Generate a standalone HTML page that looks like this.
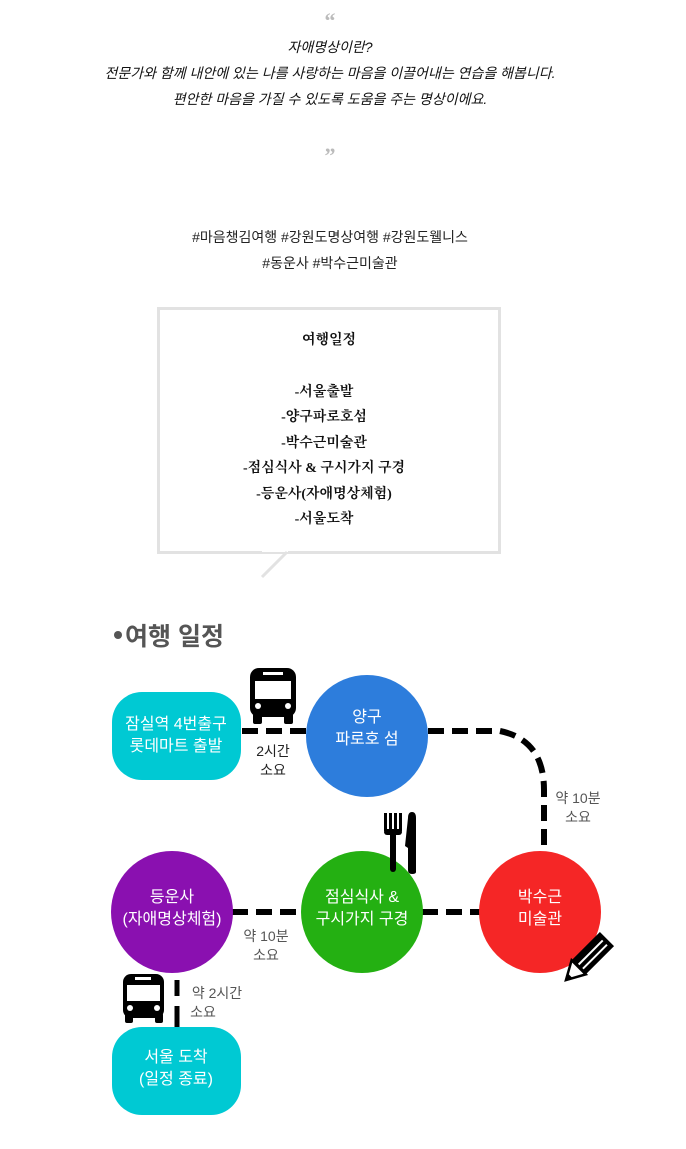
<!DOCTYPE html>
<html><head><meta charset="utf-8">
<style>
html,body{margin:0;padding:0;background:#fff;}
body{width:686px;height:1149px;position:relative;overflow:hidden;font-family:"Liberation Serif","Noto Serif CJK SC","Noto Sans CJK KR",serif;}
.abs{position:absolute;left:0;width:660px;text-align:center;}
.q{color:#bbb;font-size:22px;font-family:"Liberation Serif",serif;font-weight:bold;}
.it{font-style:italic;font-size:14px;color:#111;line-height:26px;font-family:"Liberation Sans","Noto Sans CJK KR",sans-serif;}
.tag{font-family:"Liberation Sans","Noto Sans CJK KR",sans-serif;font-size:14px;color:#222;line-height:26px;}
.box{position:absolute;left:157px;top:307px;width:338px;height:241px;border:3px solid #e2e2e2;background:#fff;text-align:center;font-size:14px;color:#111;line-height:25.5px;font-weight:bold;}
svg text{font-family:"Liberation Sans","Noto Sans CJK KR",sans-serif;}
</style></head><body>
<div class="abs q" style="top:8px;">&ldquo;</div>
<div class="abs it" style="top:34px;">자애명상이란?<br>전문가와 함께 내안에 있는 나를 사랑하는 마음을 이끌어내는 연습을 해봅니다.<br>편안한 마음을 가질 수 있도록 도움을 주는 명상이에요.</div>
<div class="abs q" style="top:143px;">&rdquo;</div>
<div class="abs tag" style="top:224px;">#마음챙김여행 #강원도명상여행 #강원도웰니스<br>#동운사 #박수근미술관</div>
<div class="box">
<div style="margin-top:18px;">여행일정</div>
<div style="margin-top:26px;margin-left:-10px;">-서울출발<br>-양구파로호섬<br>-박수근미술관<br>-점심식사 &amp; 구시가지 구경<br>-등운사(자애명상체험)<br>-서울도착</div>
</div>
<svg width="686" height="1149" style="position:absolute;left:0;top:0" xmlns="http://www.w3.org/2000/svg">
<rect x="262" y="546" width="26" height="6" fill="#fff"/>
<line x1="287" y1="552" x2="262" y2="577" stroke="#e2e2e2" stroke-width="3"/>
<circle cx="118" cy="635" r="4" fill="#555"/>
<text x="125" y="645" font-size="25" font-weight="bold" fill="#555">여행 일정</text>
<g stroke="#000" stroke-width="6" fill="none" stroke-dasharray="16,8">
<line x1="242" y1="731" x2="306" y2="731"/>
<path d="M428 731 H500 Q544 740 544 790 V852"/>
<line x1="232" y1="912" x2="302" y2="912"/>
<line x1="422" y1="912" x2="480" y2="912"/>
</g>
<g stroke="#000" stroke-width="5"><line x1="177" y1="980" x2="177" y2="996"/><line x1="177" y1="1006" x2="177" y2="1027"/></g>
<rect x="112" y="692" width="129" height="88" rx="30" fill="#00c9d3"/>
<text x="176" y="729" font-size="16" fill="#fff" text-anchor="middle">잠실역 4번출구</text>
<text x="176" y="751" font-size="16" fill="#fff" text-anchor="middle">롯데마트 출발</text>
<circle cx="367" cy="736" r="61" fill="#2d7ddc"/>
<text x="367" y="722" font-size="16" fill="#fff" text-anchor="middle">양구</text>
<text x="367" y="744" font-size="16" fill="#fff" text-anchor="middle">파로호 섬</text>
<circle cx="540" cy="912" r="61" fill="#f52626"/>
<text x="540" y="902" font-size="16" fill="#fff" text-anchor="middle">박수근</text>
<text x="540" y="924" font-size="16" fill="#fff" text-anchor="middle">미술관</text>
<circle cx="362" cy="912" r="61" fill="#24b012"/>
<text x="362" y="902" font-size="16" fill="#fff" text-anchor="middle">점심식사 &amp;</text>
<text x="362" y="924" font-size="16" fill="#fff" text-anchor="middle">구시가지 구경</text>
<circle cx="172" cy="912" r="61" fill="#8a10b0"/>
<text x="172" y="902" font-size="16" fill="#fff" text-anchor="middle">등운사</text>
<text x="172" y="924" font-size="16" fill="#fff" text-anchor="middle">(자애명상체험)</text>
<rect x="112" y="1027" width="129" height="88" rx="30" fill="#00c9d3"/>
<text x="176" y="1062" font-size="16" fill="#fff" text-anchor="middle">서울 도착</text>
<text x="176" y="1084" font-size="16" fill="#fff" text-anchor="middle">(일정 종료)</text>
<g font-size="14" fill="#222" text-anchor="middle">
<text x="273" y="756">2시간</text><text x="273" y="775">소요</text>
</g>
<g font-size="14" fill="#555" text-anchor="middle">
<text x="578" y="803">약 10분</text><text x="578" y="822">소요</text>
<text x="266" y="941">약 10분</text><text x="266" y="960">소요</text>
<text x="217" y="998">약 2시간</text><text x="203" y="1017">소요</text>
</g>
<g fill="#000">
<rect x="250" y="668" width="46" height="49" rx="9"/>
<rect x="253" y="712" width="9" height="12" rx="2"/><rect x="284" y="712" width="9" height="12" rx="2"/>
<rect x="255" y="681" width="36" height="18" fill="#fff"/>
<rect x="263" y="672" width="20" height="3" fill="#fff"/>
<circle cx="258" cy="706" r="3" fill="#fff"/><circle cx="288" cy="706" r="3" fill="#fff"/>
</g>
<g fill="#000">
<rect x="123" y="974" width="41" height="44" rx="8"/>
<rect x="125" y="1013" width="8" height="10" rx="2"/><rect x="155" y="1013" width="8" height="10" rx="2"/>
<rect x="127" y="985" width="33" height="16" fill="#fff"/>
<rect x="135" y="977" width="16" height="3" fill="#fff"/>
<circle cx="130" cy="1008" r="3" fill="#fff"/><circle cx="157" cy="1008" r="3" fill="#fff"/>
</g>
<g fill="#000">
<rect x="384" y="813" width="3" height="18"/><rect x="389" y="813" width="3" height="18"/><rect x="394" y="813" width="3" height="18"/><rect x="399" y="813" width="3" height="18"/>
<rect x="384" y="829" width="18" height="6" rx="3"/>
<rect x="390" y="832" width="6" height="40" rx="3"/>
<path d="M408 818 Q408 812 412 812 Q416 812 416 818 V872 Q416 874 412 874 Q408 874 408 870 V848 L405 846 Z"/>
</g>
<g transform="translate(590,956) rotate(45)">
<rect x="-10" y="-24" width="20" height="40" fill="#000"/>
<rect x="-3" y="-20" width="2" height="34" fill="#fff"/><rect x="3" y="-20" width="2" height="34" fill="#fff"/>
<polygon points="-10,16 10,16 0,34" fill="#fff" stroke="#000" stroke-width="2.5"/>
<polygon points="-3,28 3,28 0,34" fill="#000"/>
</g>
</svg>
</body></html>
